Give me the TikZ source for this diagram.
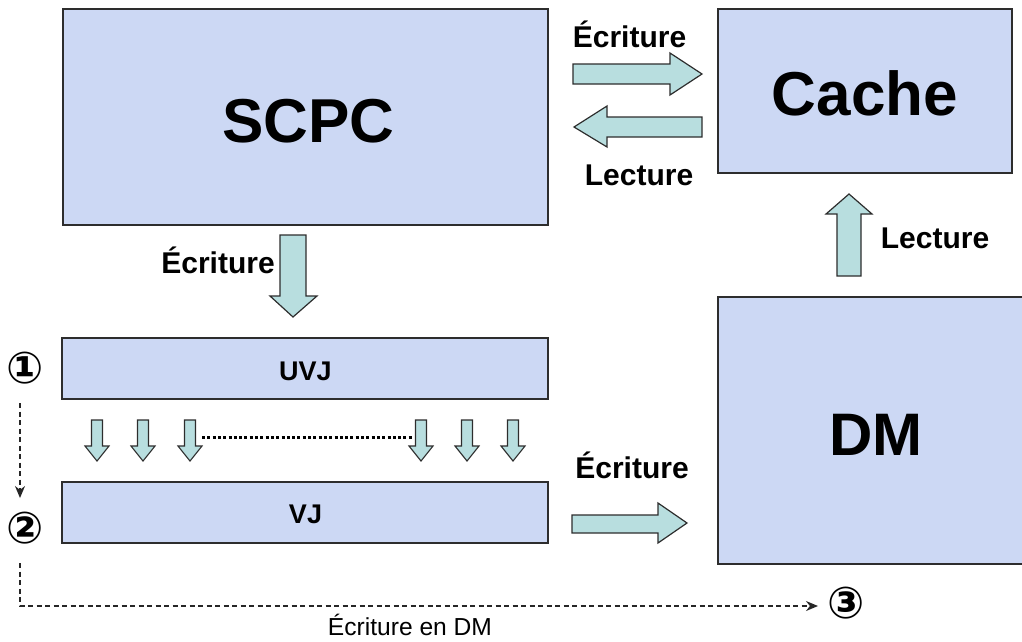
\documentclass[tikz,border=0pt]{standalone}
\usepackage{fontspec}
\setmainfont{Liberation Sans}
\newfontfamily\circfont{DejaVu Sans}
\usetikzlibrary{arrows.meta}
\definecolor{boxfill}{RGB}{204,216,244}
\definecolor{arrfill}{RGB}{184,222,223}
\definecolor{edge}{RGB}{45,45,45}
\tikzset{
  box/.style={draw=edge, line width=1.6pt, fill=boxfill, inner sep=0pt},
  blk/.style={draw=edge, line width=1.2pt, fill=arrfill, line join=miter},
  big/.style={font=\bfseries\fontsize{62}{62}\selectfont, anchor=base, inner sep=0pt},
  mid/.style={font=\bfseries\fontsize{30}{30}\selectfont, anchor=base, inner sep=0pt},
  small/.style={font=\bfseries\fontsize{27}{27}\selectfont, anchor=base, inner sep=0pt},
  plain/.style={font=\fontsize{24.6}{25}\selectfont, anchor=base, inner sep=0pt},
  circ/.style={font=\circfont\bfseries\fontsize{44}{44}\selectfont, inner sep=0pt},
  dashline/.style={draw=black!85, line width=1.4pt, dash pattern=on 5pt off 3.5pt, -{Stealth[length=12pt,width=10pt]}},
}
\begin{document}
\begin{tikzpicture}[x=1pt,y=-1pt]
\useasboundingbox (0,0) rectangle (1022,641);
% boxes
\node[box, minimum width=485pt, minimum height=216pt] (scpc) at (305.5,117) {};
\node[box, minimum width=294pt, minimum height=164pt] (cache) at (865,91) {};
\node[box, minimum width=312pt, minimum height=267pt] (dm) at (874,430.5) {};
\node[box, minimum width=486pt, minimum height=61pt] (uvj) at (305,368.5) {};
\node[box, minimum width=486pt, minimum height=61pt] (vj) at (305,512.5) {};
% box texts
\node[big] (tscpc) at (308.5,142) {SCPC};
\node[big] (tcache) at (865,115) {Cache};
\node[big, font=\bfseries\fontsize{60}{60}\selectfont] (tdm) at (876,455) {DM};
\node[small] (tuvj) at (305.5,380) {UVJ};
\node[small] (tvj) at (305.5,523) {VJ};
% block arrows: SCPC -> Cache (Ecriture)
\draw[blk] (573,64) -- (670,64) -- (670,53) -- (702,74) -- (670,95) -- (670,84) -- (573,84) -- cycle;
\node[mid] (lw1) at (629.5,47) {Écriture};
% Cache -> SCPC (Lecture)
\draw[blk] (702,117) -- (607,117) -- (607,106) -- (574,127) -- (607,147) -- (607,137) -- (702,137) -- cycle;
\node[mid] (lr1) at (639,185) {Lecture};
% SCPC -> UVJ
\draw[blk] (280,235) -- (306,235) -- (306,296) -- (317,296) -- (293,317) -- (270,296) -- (280,296) -- cycle;
\node[mid] (lw2) at (218,273) {Écriture};
% DM -> Cache
\draw[blk] (837,276) -- (837,214) -- (826,214) -- (849,194) -- (872,214) -- (861,214) -- (861,276) -- cycle;
\node[mid] (lr2) at (935,248) {Lecture};
% VJ -> DM
\draw[blk] (572,515) -- (658,515) -- (658,503) -- (687,523) -- (658,543) -- (658,533) -- (572,533) -- cycle;
\node[mid] (lw3) at (632,478) {Écriture};
% small arrows UVJ -> VJ
\foreach \cx in {97,143,190,421,467,513}{
  \draw[blk, line width=1.1pt] (\cx-5.5,420) -- (\cx+5.5,420) -- (\cx+5.5,446) -- (\cx+12,446) -- (\cx,461) -- (\cx-12,446) -- (\cx-5.5,446) -- cycle;
}
\coordinate (dotA) at (202,437);
\coordinate (dotB) at (412,437);
\draw[line width=3pt, dash pattern=on 3pt off 2.3pt] (dotA) -- (dotB);
% circled numbers
\node[circ] (n1) at (25,368) {①};
\node[circ] (n2) at (25,528) {②};
\node[circ] (n3) at (846,603) {③};
\coordinate (d1) at (20,403);
\coordinate (d2) at (20,498);
\draw[dashline] (d1) -- (d2);
\coordinate (d3) at (20,563);
\coordinate (d4) at (818,606);
\draw[dashline] (d3) |- (d4);
\node[plain] (lbl) at (410,635) {Écriture en DM};
\end{tikzpicture}
\end{document}
